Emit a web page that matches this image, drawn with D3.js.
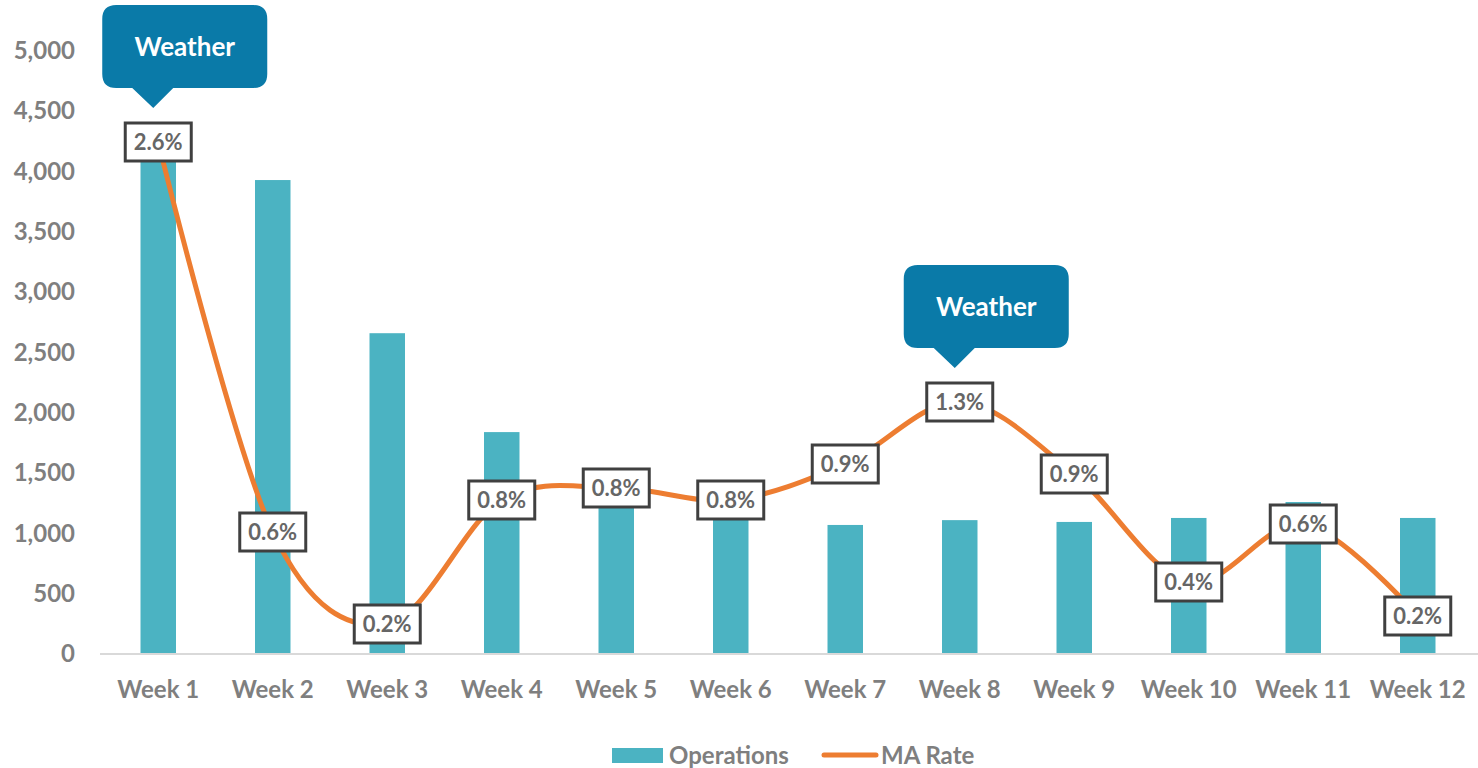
<!DOCTYPE html>
<html>
<head>
<meta charset="utf-8">
<script src="https://cdn.jsdelivr.net/npm/d3@7"></script>
<style>
  html, body { margin: 0; padding: 0; background: #fff; }
  svg { display: block; font-family: Lato, "Open Sans", sans-serif; }
</style>
</head>
<body>
<div id="chart"></div>
<script>
const weeks = ["Week 1", "Week 2", "Week 3", "Week 4", "Week 5", "Week 6",
  "Week 7", "Week 8", "Week 9", "Week 10", "Week 11", "Week 12"];
const operations = [4140, 3930, 2660, 1840, 1300, 1200, 1070, 1110, 1095, 1128, 1260, 1128];
const maRate = [2.60, 0.65, 0.19, 0.81, 0.87, 0.81, 0.99, 1.30, 0.94, 0.40, 0.69, 0.23];
const maLabels = ["2.6%", "0.6%", "0.2%", "0.8%", "0.8%", "0.8%", "0.9%", "1.3%", "0.9%", "0.4%", "0.6%", "0.2%"];
const yTicks = d3.range(0, 5001, 500);
const callouts = [{ week: "Week 1", text: "Weather" }, { week: "Week 8", text: "Weather" }];

const width = 1478, height = 768;
const font = "Lato, 'Open Sans', sans-serif";
const gray = "#7f7f7f";
const barColor = "#4bb3c2";
const lineColor = "#ed7d31";

const svg = d3.select("#chart").append("svg")
  .attr("width", width)
  .attr("height", height);

const x = d3.scaleBand().domain(weeks).range([101, 1475]).paddingInner(0.69).paddingOuter(0.345);
const y = d3.scaleLinear().domain([0, 5000]).range([654, 51]);
const yRate = d3.scaleLinear().domain([0, 3]).range([662, 62]);
const cx = (w) => x(w) + x.bandwidth() / 2;

// y axis labels
const yAxis = svg.append("g")
  .attr("transform", "translate(75,0)")
  .call(d3.axisLeft(y).tickValues(yTicks).tickFormat(d3.format(",")).tickSize(0).tickPadding(0))
  .attr("font-family", font);
yAxis.select(".domain").remove();
yAxis.selectAll("text")
  .attr("fill", gray)
  .attr("font-size", 24)
  .attr("font-weight", "bold");

// bars
svg.append("g").selectAll("rect")
  .data(operations)
  .join("rect")
  .attr("x", (d, i) => x(weeks[i]))
  .attr("y", (d) => y(d))
  .attr("width", x.bandwidth())
  .attr("height", (d) => y(0) - y(d))
  .attr("fill", barColor);

// x axis
const xAxis = svg.append("g")
  .attr("transform", `translate(0,${y(0)})`)
  .call(d3.axisBottom(x).tickSize(0).tickPadding(27))
  .attr("font-family", font);
xAxis.select(".domain")
  .attr("d", `M100,0H${width}`)
  .attr("stroke", "#d9d9d9")
  .attr("stroke-width", 2);
xAxis.selectAll("text")
  .attr("fill", gray)
  .attr("font-size", 24)
  .attr("font-weight", "bold");

// smoothed line
const line = d3.line()
  .x((d, i) => cx(weeks[i]))
  .y((d) => yRate(d))
  .curve(d3.curveCardinal.tension(0));

svg.append("path")
  .datum(maRate)
  .attr("d", line)
  .attr("fill", "none")
  .attr("stroke", lineColor)
  .attr("stroke-width", 5)
  .attr("stroke-linecap", "round");

// data labels
const lab = svg.append("g").selectAll("g")
  .data(maRate)
  .join("g")
  .attr("transform", (d, i) => `translate(${cx(weeks[i])},${yRate(d)})`);
lab.append("rect")
  .attr("x", -33).attr("y", -19)
  .attr("width", 66).attr("height", 38)
  .attr("fill", "#fff")
  .attr("stroke", "#404040")
  .attr("stroke-width", 3);
lab.append("text")
  .attr("text-anchor", "middle")
  .attr("dy", "0.36em")
  .attr("fill", "#666")
  .attr("font-size", 22)
  .attr("font-weight", "bold")
  .text((d, i) => maLabels[i]);

// callouts
const bubble = (tx, ty) => {
  const l = tx - 51, r = tx + 114, b = ty - 20, t = b - 83, rad = 14;
  return `M${l + rad},${t}H${r - rad}Q${r},${t} ${r},${t + rad}V${b - rad}Q${r},${b} ${r - rad},${b}`
    + `H${tx + 20}L${tx},${ty}L${tx - 21},${b}H${l + rad}Q${l},${b} ${l},${b - rad}V${t + rad}Q${l},${t} ${l + rad},${t}Z`;
};
const co = svg.append("g").selectAll("g")
  .data(callouts)
  .join("g");
co.append("path")
  .attr("d", (d) => {
    const i = weeks.indexOf(d.week);
    return bubble(cx(d.week) - 5, yRate(maRate[i]) - 34);
  })
  .attr("fill", "#0a7aa8");
co.append("text")
  .attr("x", (d) => cx(d.week) - 5 + 31.5)
  .attr("y", (d) => yRate(maRate[weeks.indexOf(d.week)]) - 34 - 61.5)
  .attr("dy", "0.36em")
  .attr("text-anchor", "middle")
  .attr("fill", "#fff")
  .attr("font-size", 26)
  .attr("font-weight", "bold")
  .text((d) => d.text);

// legend
const leg = svg.append("g").attr("transform", "translate(0,755)");
leg.append("rect").attr("x", 612).attr("y", -7).attr("width", 51).attr("height", 15).attr("fill", barColor);
leg.append("text").attr("x", 669).attr("dy", "0.36em").attr("fill", gray)
  .attr("font-size", 24).attr("font-weight", "bold").text("Operations");
leg.append("line").attr("x1", 824).attr("x2", 876).attr("stroke", lineColor)
  .attr("stroke-width", 5).attr("stroke-linecap", "round");
leg.append("text").attr("x", 881).attr("dy", "0.36em").attr("fill", gray)
  .attr("font-size", 24).attr("font-weight", "bold").text("MA Rate");
</script>
</body>
</html>
